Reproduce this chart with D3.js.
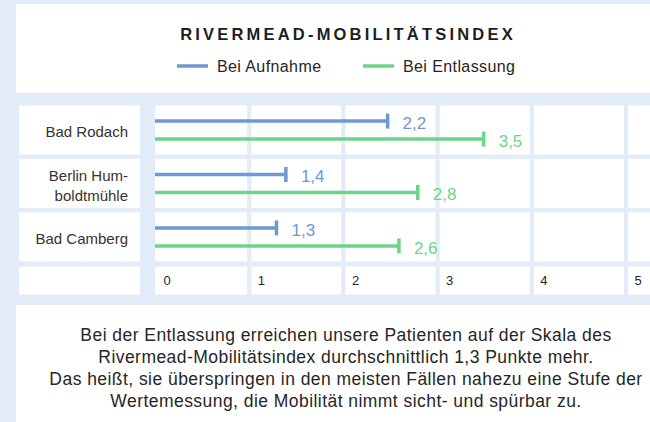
<!DOCTYPE html>
<html lang="de">
<head>
<meta charset="UTF-8">
<title>Rivermead-Mobilitätsindex</title>
<script src="https://d3js.org/d3.v7.min.js"></script>
<style>
  html, body { margin: 0; padding: 0; background: #e1ecf8; overflow: hidden; }
  svg { display: block; font-family: "Liberation Sans", Arial, sans-serif; }
</style>
</head>
<body>
<script>
// Data
const clinics = [["Bad Rodach"], ["Berlin Hum-", "boldtmühle"], ["Bad Camberg"]];
const admission = [2.48, 1.4, 1.3];      // bar ends as drawn in the chart
const discharge = [3.5, 2.8, 2.6];
const admissionLabels = ["2,2", "1,4", "1,3"];
const dischargeLabels = ["3,5", "2,8", "2,6"];
const xTicks = [0, 1, 2, 3, 4, 5];
const seriesNames = ["Bei Aufnahme", "Bei Entlassung"];
const seriesColors = ["#6d9ad2", "#6dd588"];
const title = "RIVERMEAD-MOBILITÄTSINDEX";
const note = [
  "Bei der Entlassung erreichen unsere Patienten auf der Skala des",
  "Rivermead-Mobilitätsindex durchschnittlich 1,3 Punkte mehr.",
  "Das heißt, sie überspringen in den meisten Fällen nahezu eine Stufe der",
  "Wertemessung, die Mobilität nimmt sicht- und spürbar zu."
];

const w = 650, h = 422;
const bg = "#e1ecf8";
const textColor = "#262626";

const svg = d3.select("body").append("svg")
  .attr("width", w)
  .attr("height", h);

svg.append("rect").attr("width", w).attr("height", h).attr("fill", bg);

// Header panel
svg.append("rect")
  .attr("x", 16).attr("y", 4)
  .attr("width", 700).attr("height", 89)
  .attr("fill", "#fff");

svg.append("text")
  .attr("x", 348).attr("y", 40)
  .attr("text-anchor", "middle")
  .attr("font-size", 16.5)
  .attr("font-weight", "bold")
  .attr("letter-spacing", 3.2)
  .attr("fill", "#1e1e1e")
  .text(title);

// Legend
const legendX = [177, 363];
const legend = svg.append("g");
seriesNames.forEach((name, i) => {
  const g = legend.append("g").attr("transform", `translate(${legendX[i]},66)`);
  g.append("line")
    .attr("x1", 0).attr("x2", 31)
    .attr("stroke", seriesColors[i])
    .attr("stroke-width", 3.5);
  g.append("text")
    .attr("x", 40)
    .attr("y", 5.7)
    .attr("font-size", 16)
    .attr("letter-spacing", 0.4)
    .attr("fill", textColor)
    .text(name);
});

// Scales
const x = d3.scaleLinear().domain([0, 5]).range([155, 626]);
const y = d3.scaleBand()
  .domain(d3.range(clinics.length))
  .range([105.5, 261.5])
  .paddingInner(0.08);

const rowTops = y.domain().map(d => [y(d), y.bandwidth()]);
rowTops.push([266.5, 28]);   // axis row

// Grid cells
const grid = svg.append("g");
rowTops.forEach(([top, hgt]) => {
  grid.append("rect")
    .attr("x", 19).attr("y", top)
    .attr("width", 121).attr("height", hgt)
    .attr("fill", "#fff");
  xTicks.forEach(t => {
    const x0 = t === 0 ? x(0) : x(t) + 2;
    const x1 = t === 5 ? w + 10 : x(t + 1) - 2;
    grid.append("rect")
      .attr("x", x0).attr("y", top)
      .attr("width", x1 - x0).attr("height", hgt)
      .attr("fill", "#fff");
  });
});

// Category labels
clinics.forEach((lines, i) => {
  const cy = y(i) + y.bandwidth() / 2 + 2;
  const t = svg.append("text")
    .attr("text-anchor", "end")
    .attr("font-size", 15)
    .attr("fill", "#333");
  lines.forEach((ln, j) => {
    t.append("tspan")
      .attr("x", 128)
      .attr("y", cy + 5.3 + (j - (lines.length - 1) / 2) * 19.5)
      .text(ln);
  });
});

// Bars
const series = [
  { values: admission, labels: admissionLabels, offset: -9, color: seriesColors[0] },
  { values: discharge, labels: dischargeLabels, offset: 9, color: seriesColors[1] }
];

series.forEach(s => {
  const g = svg.append("g");
  s.values.forEach((v, i) => {
    const cy = y(i) + y.bandwidth() / 2 + s.offset;
    g.append("line")
      .attr("x1", x(0)).attr("x2", x(v))
      .attr("y1", cy).attr("y2", cy)
      .attr("stroke", s.color)
      .attr("stroke-width", 3.5);
    g.append("line")
      .attr("x1", x(v) - 1).attr("x2", x(v) - 1)
      .attr("y1", cy - 7.5).attr("y2", cy + 7.5)
      .attr("stroke", s.color)
      .attr("stroke-width", 3.5);
    g.append("text")
      .attr("x", x(v) + 14)
      .attr("y", cy + 7.6)
      .attr("font-size", 17)
      .attr("fill", s.color)
      .text(s.labels[i]);
  });
});

// X axis
const xAxis = d3.axisBottom(x)
  .tickValues(xTicks)
  .tickSize(0)
  .tickFormat(d3.format("d"));

const axisG = svg.append("g")
  .attr("transform", "translate(0,285)")
  .call(xAxis);
axisG.select(".domain").remove();
axisG.selectAll("text")
  .attr("y", 0)
  .attr("dy", null)
  .attr("dx", 8)
  .attr("text-anchor", "start")
  .attr("font-size", 13)
  .attr("font-family", "'Liberation Sans', Arial, sans-serif")
  .attr("fill", textColor);

// Footer note
svg.append("rect")
  .attr("x", 16).attr("y", 305)
  .attr("width", 700).attr("height", 200)
  .attr("fill", "#fff");

note.forEach((ln, i) => {
  svg.append("text")
    .attr("x", 346)
    .attr("y", 340.7 + i * 22.2)
    .attr("text-anchor", "middle")
    .attr("font-size", 17.5)
    .attr("letter-spacing", 0.45)
    .attr("fill", textColor)
    .text(ln);
});
</script>
</body>
</html>
